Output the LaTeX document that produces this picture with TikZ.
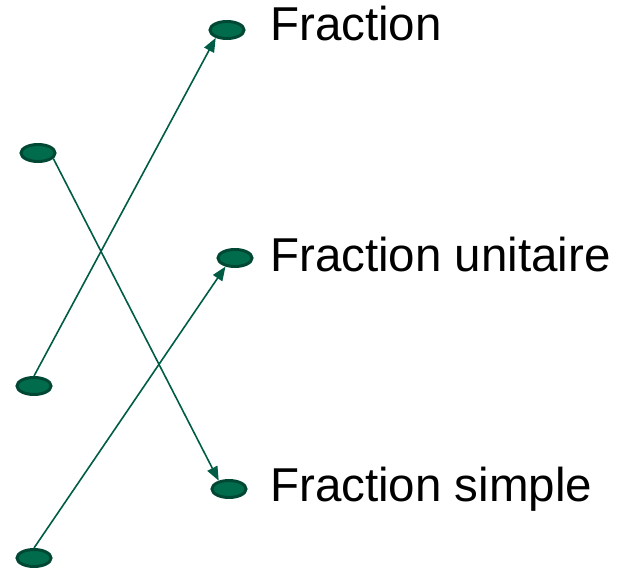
\documentclass[tikz,border=0pt]{standalone}
\usepackage{fontspec}
\setmainfont{Liberation Sans}
\usetikzlibrary{shapes.geometric,arrows.meta}
\definecolor{dotfill}{RGB}{0,108,76}
\definecolor{dotline}{RGB}{0,72,52}
\definecolor{arrowc}{RGB}{0,92,68}
\tikzset{
  dot/.style={ellipse,fill=dotfill,draw=dotline,line width=3pt,minimum width=34pt,minimum height=17pt,inner sep=0pt},
  lab/.style={anchor=base west,inner sep=0pt,font=\fontsize{47.5}{52}\selectfont},
  link/.style={draw=arrowc,line width=1.6pt,-{Triangle[length=14pt,width=11pt]}}
}
\begin{document}
\begin{tikzpicture}[x=1pt,y=-1pt]
\useasboundingbox (0,0) rectangle (626,570);
\node[dot] (L1) at (38,153) {};
\node[dot] (L2) at (34,386) {};
\node[dot] (L3) at (34,558) {};
\node[dot] (R1) at (227,30) {};
\node[dot] (R2) at (235,258) {};
\node[dot] (R3) at (229,489) {};
\node[lab] (T1) at (270,40) {Fraction};
\node[lab] (T2) at (270,271) {Fraction unitaire};
\node[lab] (T3) at (270,501) {Fraction simple};
\draw[link] (L1.-20) -- (R3.141);
\draw[link] (L2.north) -- (R1.215);
\draw[link] (L3.north) -- (R2.222);
\end{tikzpicture}
\end{document}
